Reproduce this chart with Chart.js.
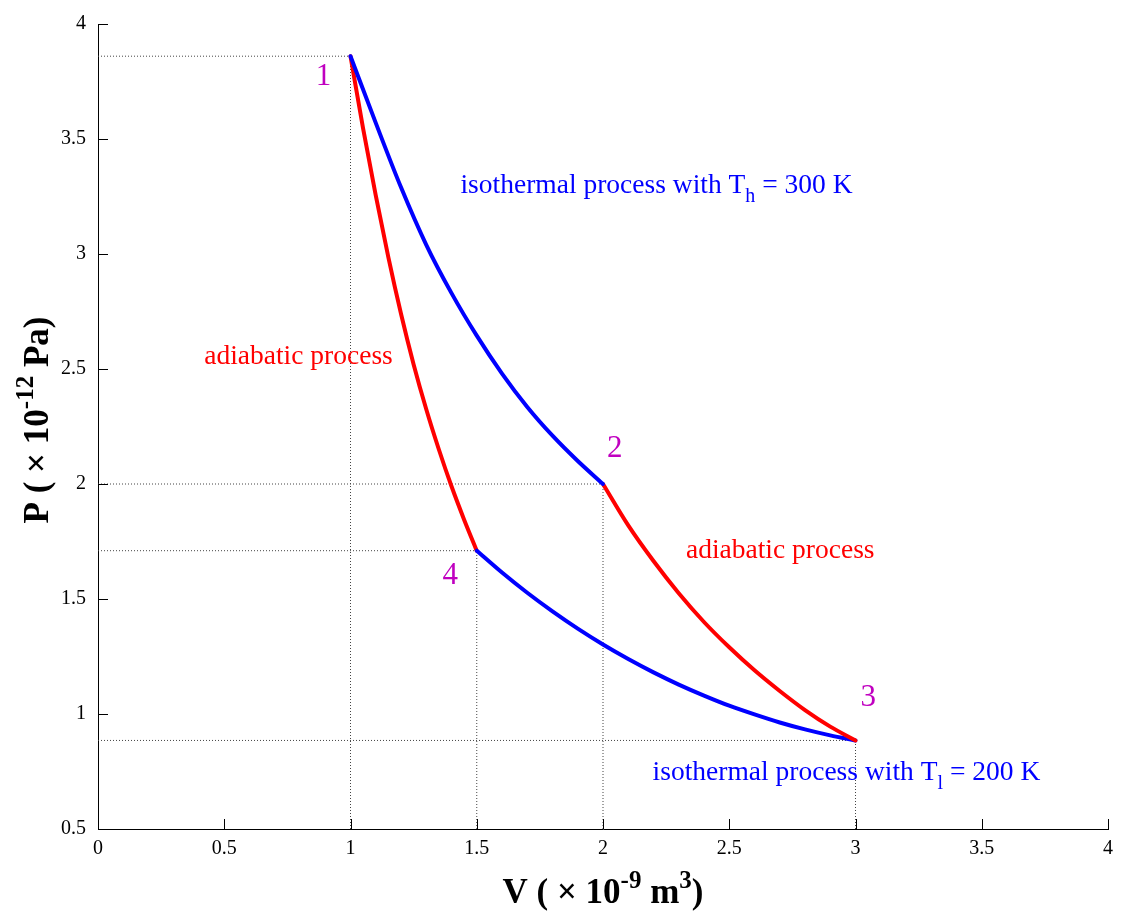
<!DOCTYPE html>
<html>
<head>
<meta charset="utf-8">
<script src="https://cdn.jsdelivr.net/npm/chart.js@4/dist/chart.umd.min.js"></script>
<style>
html,body{margin:0;padding:0;background:#fff;}
#wrap{width:1121px;height:913px;position:relative;}
</style>
</head>
<body>
<div id="wrap"><canvas id="c" width="1121" height="913"></canvas></div>
<script>
// ---- data ----
const isoHotV = [1.0, 1.1, 1.2, 1.3, 1.4, 1.5, 1.6, 1.7, 1.8, 1.9, 2.0];
const isoHotP = [3.86, 3.57, 3.29, 3.04, 2.83, 2.645, 2.48, 2.335, 2.21, 2.10, 2.00];

const adiaHotV = [2.0, 2.1, 2.2, 2.3, 2.4, 2.5, 2.6, 2.7, 2.8, 2.9, 3.0];
const adiaHotP = [2.00, 1.82, 1.665, 1.525, 1.40, 1.29, 1.19, 1.10, 1.017, 0.945, 0.885];

const isoColdV = [1.5, 1.6, 1.7, 1.8, 1.9, 2.0, 2.1, 2.2, 2.3, 2.4, 2.5, 2.6, 2.7, 2.8, 2.9, 3.0];
const isoColdP = [1.71, 1.615, 1.527, 1.446, 1.371, 1.302, 1.239, 1.181, 1.128, 1.080, 1.036, 0.998, 0.963, 0.933, 0.907, 0.885];

const adiaColdV = [1.0, 1.05, 1.1, 1.15, 1.2, 1.25, 1.3, 1.35, 1.4, 1.45, 1.5];
const adiaColdP = [3.86, 3.545, 3.255, 2.985, 2.74, 2.52, 2.325, 2.15, 1.99, 1.845, 1.71];

const stateNames = ['1', '2', '3', '4'];
const stateV = [1.0, 2.0, 3.0, 1.5];
const stateP = [3.86, 2.0, 0.885, 1.71];

const xTicks = [0, 0.5, 1, 1.5, 2, 2.5, 3, 3.5, 4];
const yTicks = [0.5, 1, 1.5, 2, 2.5, 3, 3.5, 4];

// ---- text annotations (data coordinates) ----
const annotations = [
  {parts:[{t:stateNames[0]}], x:0.893, y:3.78, color:'#c000c0', size:31},
  {parts:[{t:stateNames[1]}], x:2.047, y:2.16, color:'#c000c0', size:31},
  {parts:[{t:stateNames[2]}], x:3.05, y:1.08, color:'#c000c0', size:31},
  {parts:[{t:stateNames[3]}], x:1.395, y:1.61, color:'#c000c0', size:31},
  {parts:[{t:'isothermal process with T'},{t:'h',sub:true},{t:' = 300 K'}], x:2.212, y:3.305, color:'#0000ff', size:27.5},
  {parts:[{t:'adiabatic process'}], x:0.794, y:2.56, color:'#ff0000', size:27.5},
  {parts:[{t:'adiabatic process'}], x:2.702, y:1.717, color:'#ff0000', size:27.5},
  {parts:[{t:'isothermal process with T'},{t:'l',sub:true},{t:' = 200 K'}], x:2.964, y:0.752, color:'#0000ff', size:27.5}
];

const SERIF = '"Liberation Serif", "Times New Roman", serif';

function pts(vs, ps){ return vs.map((v,i)=>({x:v, y:ps[i]})); }

const guideSets = [];
stateV.forEach((v,i)=>{
  const p = stateP[i];
  guideSets.push({data:[{x:0,y:p},{x:v,y:p}], borderColor:'#444', borderWidth:1, borderDash:[1,2], pointRadius:0, showLine:true, order:5});
  guideSets.push({data:[{x:v,y:0.5},{x:v,y:p}], borderColor:'#444', borderWidth:1, borderDash:[1,2], pointRadius:0, showLine:true, order:5});
});

const curveStyle = {pointRadius:0, showLine:true, borderWidth:4, cubicInterpolationMode:'monotone', order:1, borderCapStyle:'round', borderJoinStyle:'round'};

function drawRich(ctx, parts, cx, cy, size, color, align){
  const measure = [];
  let total = 0;
  parts.forEach(p=>{
    const s = (p.sub||p.sup) ? Math.round(size*0.72) : size;
    ctx.font = (p.bold?'bold ':'') + s + 'px ' + SERIF;
    const w = ctx.measureText(p.t).width;
    measure.push({s, w});
    total += w;
  });
  let x = align==='center' ? cx - total/2 : cx;
  ctx.fillStyle = color;
  ctx.textBaseline = 'alphabetic';
  ctx.textAlign = 'left';
  const base = cy + size*0.33;
  parts.forEach((p,i)=>{
    const m = measure[i];
    ctx.font = (p.bold?'bold ':'') + m.s + 'px ' + SERIF;
    let y = base;
    if (p.sub) y = base + size*0.34;
    if (p.sup) y = base - size*0.42;
    ctx.fillText(p.t, x, y);
    x += m.w;
  });
}

const textPlugin = {
  id:'textPlugin',
  afterDraw(chart){
    const ctx = chart.ctx;
    const xs = chart.scales.x, ys = chart.scales.y;
    ctx.save();
    // inward ticks
    ctx.strokeStyle = '#000';
    ctx.lineWidth = 1;
    const L = 10;
    const bottom = ys.getPixelForValue(0.5), left = xs.getPixelForValue(0);
    xTicks.forEach(t=>{
      const px = Math.round(xs.getPixelForValue(t))+0.5;
      ctx.beginPath(); ctx.moveTo(px, bottom); ctx.lineTo(px, bottom-L); ctx.stroke();
    });
    yTicks.forEach(t=>{
      const py = Math.round(ys.getPixelForValue(t))+0.5;
      ctx.beginPath(); ctx.moveTo(left, py); ctx.lineTo(left+L, py); ctx.stroke();
    });
    // annotations
    annotations.forEach(a=>{
      drawRich(ctx, a.parts, xs.getPixelForValue(a.x), ys.getPixelForValue(a.y), a.size, a.color, 'center');
    });
    // axis titles
    const xt = [{t:'V ( × 10',bold:true},{t:'-9',sup:true,bold:true},{t:' m',bold:true},{t:'3',sup:true,bold:true},{t:')',bold:true}];
    drawRich(ctx, xt, (chart.chartArea.left+chart.chartArea.right)/2, 891, 35, '#000', 'center');
    ctx.save();
    ctx.translate(36, 420);
    ctx.rotate(-Math.PI/2);
    const yt = [{t:'P ( × 10',bold:true},{t:'-12',sup:true,bold:true},{t:' Pa)',bold:true}];
    drawRich(ctx, yt, 0, 0, 35, '#000', 'center');
    ctx.restore();
    ctx.restore();
  }
};

new Chart(document.getElementById('c'), {
  type:'scatter',
  data:{
    datasets:[
      ...guideSets,
      Object.assign({data:pts(isoHotV, isoHotP), borderColor:'#0000ff'}, curveStyle),
      Object.assign({data:pts(adiaHotV, adiaHotP), borderColor:'#ff0000'}, curveStyle),
      Object.assign({data:pts(isoColdV, isoColdP), borderColor:'#0000ff'}, curveStyle),
      Object.assign({data:pts(adiaColdV, adiaColdP), borderColor:'#ff0000'}, curveStyle)
    ]
  },
  options:{
    responsive:false,
    animation:false,
    clip:false,
    layout:{padding:{left:0, right:11, top:21, bottom:0}},
    plugins:{legend:{display:false}, tooltip:{enabled:false}},
    scales:{
      x:{
        type:'linear', min:0, max:4,
        afterBuildTicks(s){ s.ticks = xTicks.map(v=>({value:v})); },
        afterFit(s){ s.height = 84; },
        grid:{display:true, drawOnChartArea:false, drawTicks:false},
        border:{display:true, color:'#000', width:1},
        ticks:{color:'#000', padding:8, maxRotation:0, autoSkip:false, font:{family:SERIF, size:20},
          callback:(v)=>String(v)}
      },
      y:{
        type:'linear', min:0.5, max:4,
        afterBuildTicks(s){ s.ticks = yTicks.map(v=>({value:v})); },
        afterFit(s){ s.width = 98; },
        grid:{display:true, drawOnChartArea:false, drawTicks:false},
        border:{display:true, color:'#000', width:1},
        ticks:{color:'#000', padding:12, autoSkip:false, font:{family:SERIF, size:20},
          callback:(v)=>String(v)}
      }
    }
  },
  plugins:[textPlugin]
});
</script>
</body>
</html>
